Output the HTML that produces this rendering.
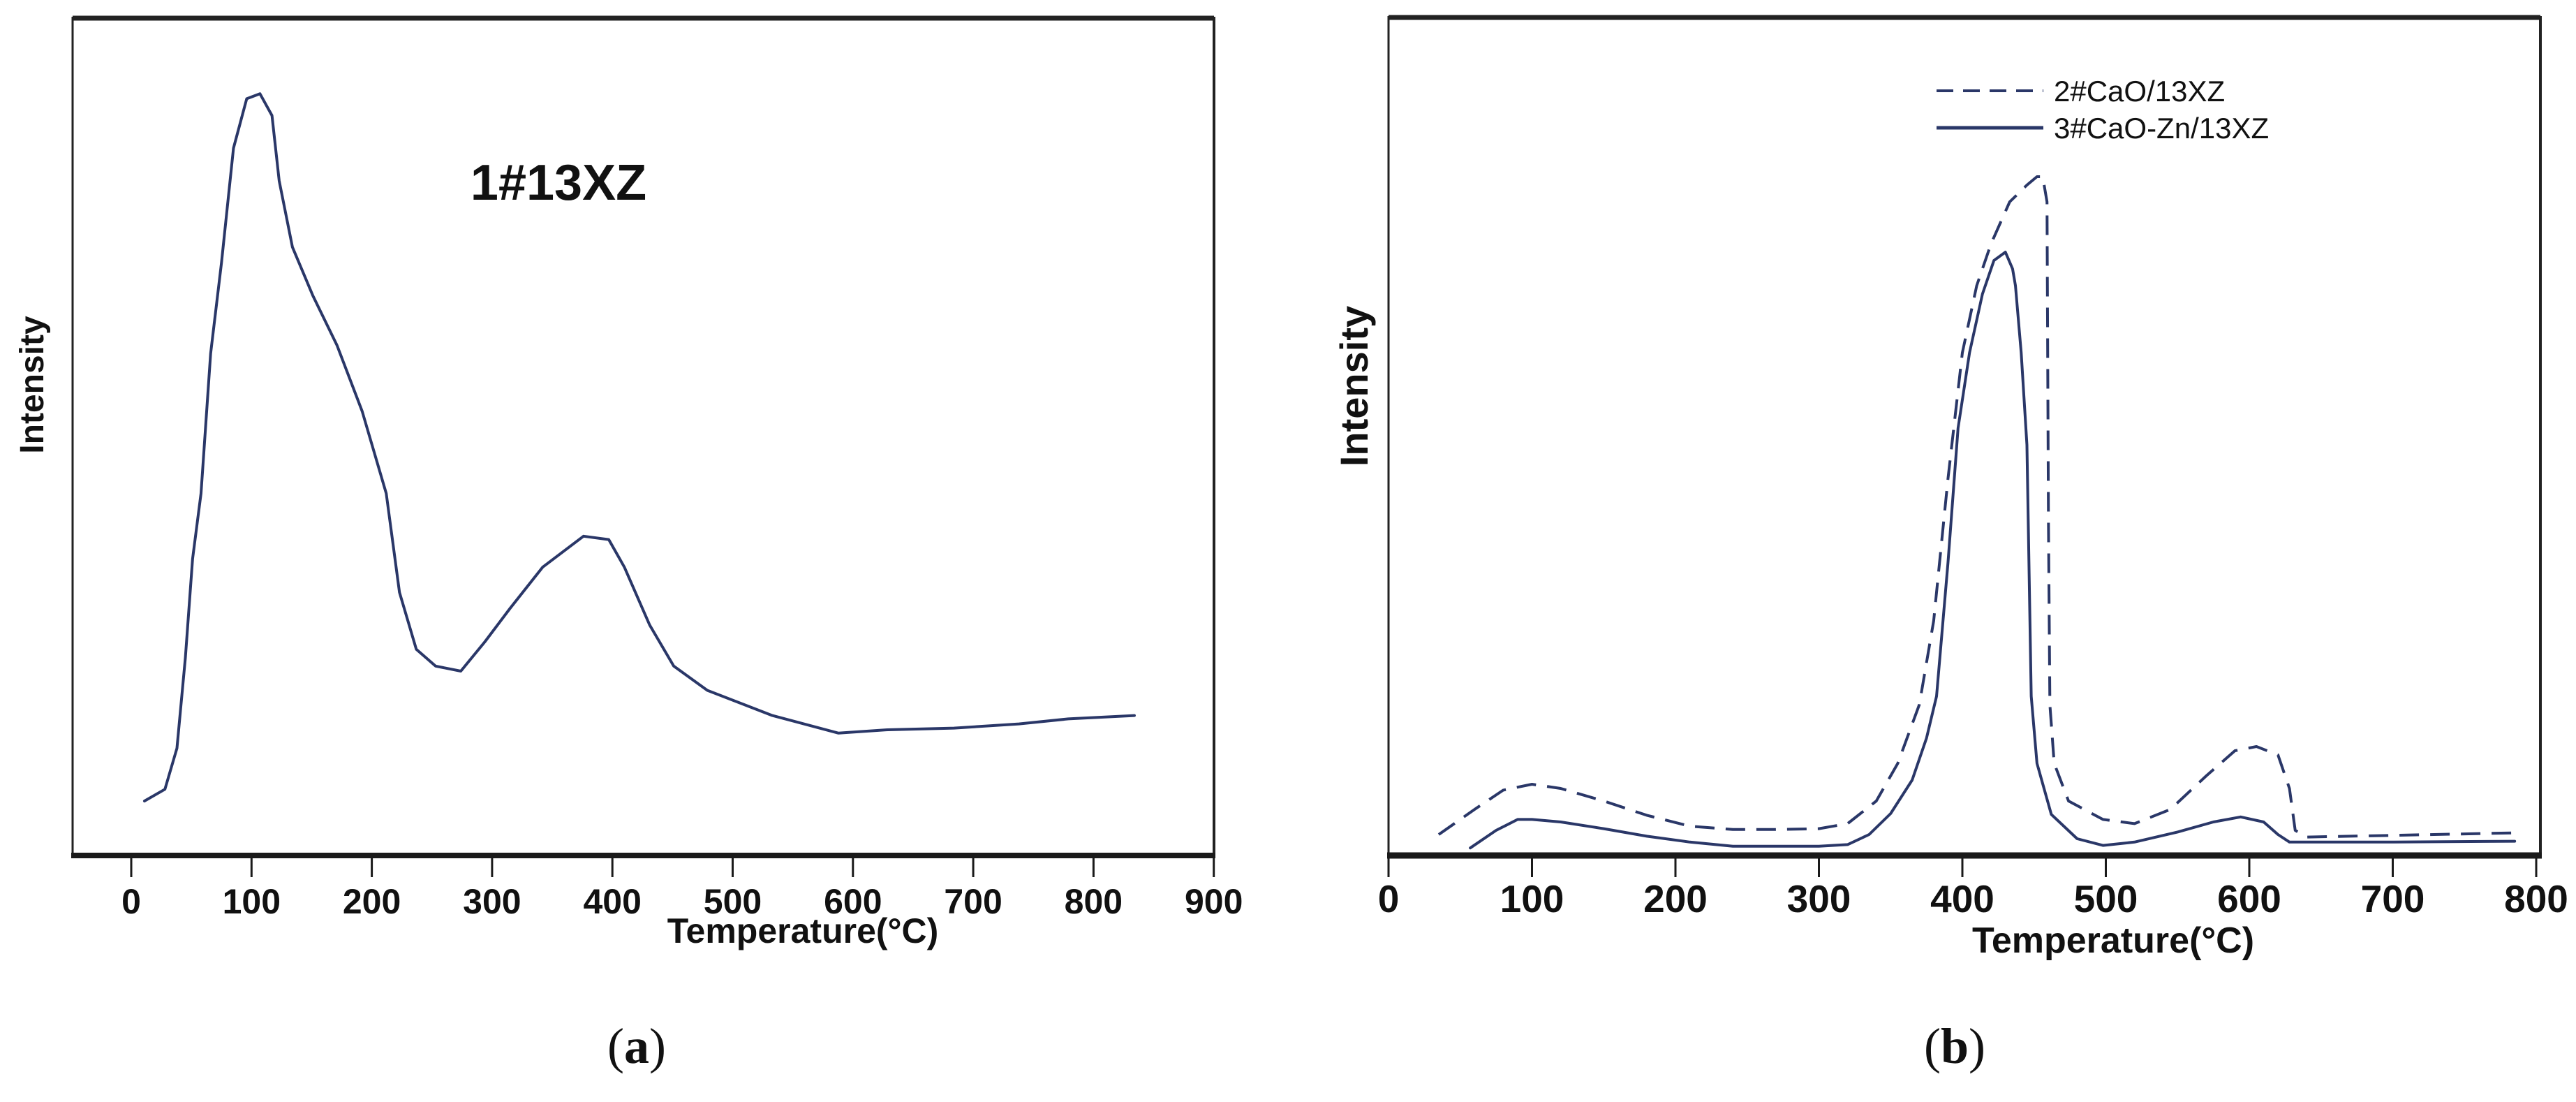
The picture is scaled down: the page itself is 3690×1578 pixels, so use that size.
<!DOCTYPE html>
<html><head><meta charset="utf-8"><style>
html,body{margin:0;padding:0;background:#fff;}
svg{display:block;}
text{font-family:"Liberation Sans",Arial,sans-serif;fill:#111;}
</style></head><body>
<svg id="fig" width="3690" height="1578" viewBox="0 0 3690 1578" xmlns="http://www.w3.org/2000/svg">
<rect width="3690" height="1578" fill="#fff"/>
<g id="pa"></g>
<g id="pb"></g>
</svg>
<script>
// Panel (a) data
const aTemps = [11,28,38,45,51,58,66,75,85,96,107,117,123,134,151,171,192,212,223,237,253,274,294,315,342,376,397,410,431,451,479,533,588,629,684,738,779,834];
const aIntensity = [6.5,7.9,12.8,23.6,35.4,43.2,59.9,70.7,84.4,90.3,90.9,88.3,80.5,72.6,66.8,60.9,53,43.2,31.4,24.6,22.6,22,25.5,29.5,34.4,38.1,37.7,34.4,27.5,22.6,19.7,16.7,14.6,15,15.2,15.7,16.3,16.7];
const aTicks = [0,100,200,300,400,500,600,700,800,900];
// Panel (b) data
const bDashT = [35,60,80,100,120,150,180,210,240,270,300,320,340,355,370,380,390,400,410,420,433,445,452,456,459,460,461,464,474,498,520,545,570,590,605,620,628,632,640,700,785];
const bDashV = [2.5,5.5,7.8,8.5,8,6.5,4.8,3.5,3.1,3.1,3.2,3.8,6.5,11,18,28,45,60,68,73,78,80,81,81,78,40,18,11,6.5,4.3,3.8,5.5,9.5,12.5,13,12,8,3,2.2,2.4,2.7];
const bSolidT = [57,75,90,100,120,150,180,210,240,270,300,320,335,350,365,375,382,390,397,405,414,422,430,435,437,441,445,448,452,462,480,498,520,550,575,594,610,620,628,640,700,785];
const bSolidV = [0.9,3,4.3,4.3,4,3.2,2.3,1.6,1.1,1.1,1.1,1.3,2.5,5,9,14,19,35,51,60,67,71,72,70,68,60,49,19,11,4.9,2,1.2,1.6,2.8,4,4.6,4,2.5,1.6,1.6,1.6,1.7];
const bTicks = [0,100,200,300,400,500,600,700,800];

const NS = "http://www.w3.org/2000/svg";
function mk(parent, tag, attrs, txt){
  const e = document.createElementNS(NS, tag);
  for (const k in attrs) e.setAttribute(k, attrs[k]);
  if (txt !== undefined) e.textContent = txt;
  parent.appendChild(e);
  return e;
}
const LINE = "#2a3768";

// ---------- Panel A ----------
const pa = document.getElementById('pa');
const axA = t => 188 + t * 1.723;
const ayA = v => 1225 - v * 12;
let e;
e = mk(pa,'line',{x1:104,y1:26,x2:1739,y2:26,stroke:'#222','stroke-width':7});
 
e = mk(pa,'line',{x1:104,y1:24,x2:104,y2:1228,stroke:'#222','stroke-width':3});
 
e = mk(pa,'line',{x1:1739,y1:24,x2:1739,y2:1228,stroke:'#222','stroke-width':4});
 
e = mk(pa,'line',{x1:102,y1:1225,x2:1741,y2:1225,stroke:'#1a1a1a','stroke-width':8});
 
aTicks.forEach(t=>{
  const tk = mk(pa,'line',{x1:axA(t),y1:1225,x2:axA(t),y2:1256,stroke:'#1a1a1a','stroke-width':3});
   
  const lb = mk(pa,'text',{x:axA(t),y:1308,'font-size':50,'font-weight':'bold','text-anchor':'middle'},String(t));
   
});
e = mk(pa,'text',{x:1150,y:1350,'font-size':50,'font-weight':'bold','text-anchor':'middle'},'Temperature(\u00B0C)');
 
e = mk(pa,'text',{x:0,y:0,'font-size':48,'font-weight':'bold','text-anchor':'middle',transform:'translate(62,551) rotate(-90)'},'Intensity');
 
e = mk(pa,'text',{x:800,y:286,'font-size':72,'font-weight':'bold','text-anchor':'middle'},'1#13XZ');
 
e = mk(pa,'polyline',{points:aTemps.map((t,i)=>axA(t)+','+ayA(aIntensity[i])).join(' '),fill:'none',stroke:LINE,'stroke-width':4,'stroke-linejoin':'round','stroke-linecap':'round'});
 
e = mk(pa,'text',{x:912,y:1522,'font-size':72,'text-anchor':'middle'},'');
 
e.style.fontFamily='"Liberation Serif", serif';
e.innerHTML = '(<tspan font-weight="bold">a</tspan>)';

// ---------- Panel B ----------
const pb = document.getElementById('pb');
const axB = t => 1989 + t * 2.055;
const ayB = v => 1225 - v * 12;
e = mk(pb,'line',{x1:1989,y1:25,x2:3639,y2:25,stroke:'#222','stroke-width':7});
 
e = mk(pb,'line',{x1:1989,y1:23,x2:1989,y2:1228,stroke:'#222','stroke-width':3});
 
e = mk(pb,'line',{x1:3639,y1:23,x2:3639,y2:1228,stroke:'#222','stroke-width':4});
 
e = mk(pb,'line',{x1:1987,y1:1225,x2:3641,y2:1225,stroke:'#1a1a1a','stroke-width':9});
 
bTicks.forEach(t=>{
  const tk = mk(pb,'line',{x1:axB(t),y1:1225,x2:axB(t),y2:1256,stroke:'#1a1a1a','stroke-width':3});
   
  const lb = mk(pb,'text',{x:axB(t),y:1306,'font-size':55,'font-weight':'bold','text-anchor':'middle'},String(t));
   
});
e = mk(pb,'text',{x:3027,y:1364,'font-size':52,'font-weight':'bold','text-anchor':'middle'},'Temperature(\u00B0C)');
 
e = mk(pb,'text',{x:0,y:0,'font-size':56,'font-weight':'bold','text-anchor':'middle',transform:'translate(1959,553) rotate(-90)'},'Intensity');
 
// legend
e = mk(pb,'line',{x1:2774,y1:130,x2:2927,y2:130,stroke:LINE,'stroke-width':4,'stroke-dasharray':'24 14'});
 
e = mk(pb,'text',{x:2942,y:145,'font-size':42},'2#CaO/13XZ');
 
e = mk(pb,'line',{x1:2774,y1:183,x2:2927,y2:183,stroke:LINE,'stroke-width':5});
 
e = mk(pb,'text',{x:2942,y:198,'font-size':42},'3#CaO-Zn/13XZ');
 
e = mk(pb,'polyline',{points:bDashT.map((t,i)=>axB(t)+','+ayB(bDashV[i])).join(' '),fill:'none',stroke:LINE,'stroke-width':4,'stroke-dasharray':'28 16','stroke-linejoin':'round'});
 
e = mk(pb,'polyline',{points:bSolidT.map((t,i)=>axB(t)+','+ayB(bSolidV[i])).join(' '),fill:'none',stroke:LINE,'stroke-width':4,'stroke-linejoin':'round','stroke-linecap':'round'});
 
e = mk(pb,'text',{x:2800,y:1522,'font-size':72,'text-anchor':'middle'},'');
 
e.style.fontFamily='"Liberation Serif", serif';
e.innerHTML = '(<tspan font-weight="bold">b</tspan>)';
</script>
</body></html>
